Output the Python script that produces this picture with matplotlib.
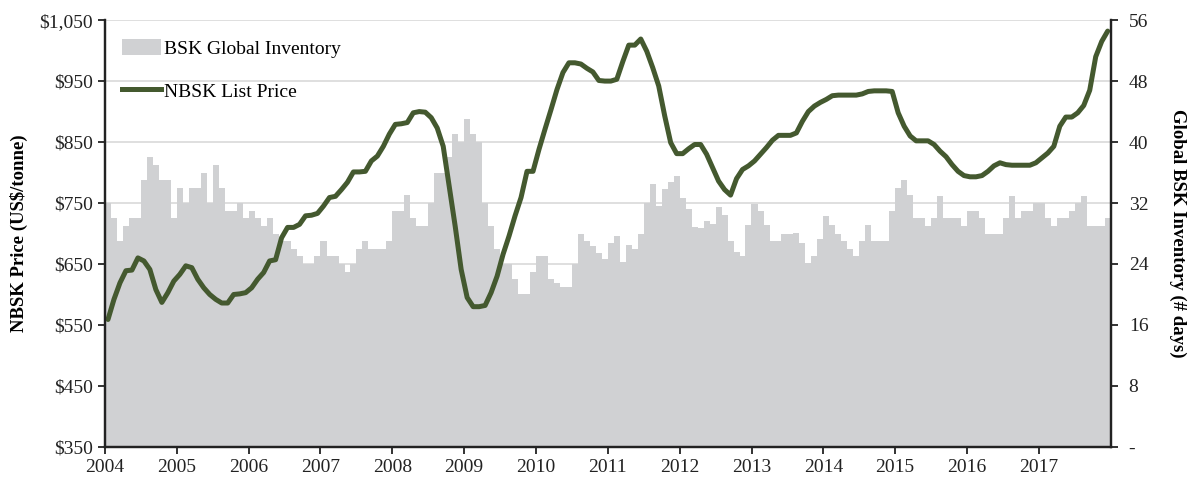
import numpy as np
import matplotlib
matplotlib.use("Agg")
import matplotlib.pyplot as plt
from matplotlib.patches import Patch
from matplotlib.lines import Line2D

plt.rcParams['font.family'] = ['Liberation Serif', 'DejaVu Serif']

years = list(range(2004, 2018))

# BSK global inventory, days of supply, monthly Jan 2004 - Dec 2017
inventory = [
    32, 30, 27, 29, 30, 30, 35, 38, 37, 35, 35, 30,
    34, 32, 34, 34, 36, 32, 37, 34, 31, 31, 32, 30,
    31, 30, 29, 30, 28, 27, 27, 26, 25, 24, 24, 25,
    27, 25, 25, 24, 23, 24, 26, 27, 26, 26, 26, 27,
    31, 31, 33, 30, 29, 29, 32, 36, 36, 38, 41, 40,
    43, 41, 40, 32, 29, 26, 24, 24, 22, 20, 20, 23,
    25, 25, 22, 21.5, 21, 21, 24, 28, 27, 26.4, 25.5, 24.7,
    26.8, 27.7, 24.3, 26.5, 26, 28, 32, 34.5, 31.6, 33.8, 34.7, 35.6,
    32.7, 31.2, 28.8, 28.7, 29.6, 29.3, 31.5, 30.4, 27, 25.6, 25, 29.1,
    31.9, 31, 29.1, 27, 27, 28, 28, 28.1, 26.8, 24.1, 25, 27.3,
    30.3, 29.1, 28, 27, 26, 25, 27, 29.1, 27, 27, 27, 31,
    34, 35, 33, 30.1, 30.1, 29, 30.1, 32.9, 30.1, 30.1, 30.1, 29,
    31, 31, 30.1, 28, 28, 28, 30.1, 32.9, 30.1, 31, 31, 32,
    32, 30.1, 29, 30.1, 30.1, 31, 32, 32.9, 29, 29, 29, 30.1,
]

# NBSK list price, US$/tonne, monthly Jan 2004 - Dec 2017
price = [
    559, 592, 619, 639, 640, 660, 655, 641, 608, 587, 603, 622,
    633, 647, 644, 625, 611, 600, 592, 586, 586, 600, 601, 603,
    611, 625, 636, 655, 657, 693, 710, 710, 715, 729, 730, 733,
    745, 759, 761, 772, 784, 801, 801, 802, 819, 827, 843, 863,
    879, 880, 882, 898, 900, 899, 890, 873, 843, 778, 712, 641,
    595, 580, 580, 582, 603, 630, 666, 696, 729, 759, 802, 802,
    838, 871, 903, 936, 964, 980, 980, 978, 971, 965, 951, 950,
    950, 953, 982, 1009, 1009, 1019, 999, 972, 942, 893, 849, 831,
    831, 839, 846, 846, 830, 808, 786, 772, 763, 790, 805, 811,
    819, 830, 841, 853, 861, 861, 861, 865, 884, 900, 909, 915,
    920, 926, 927, 927, 927, 927, 929, 933, 934, 934, 934, 933,
    898, 876, 860, 852, 852, 852, 846, 835, 826, 813, 802, 795,
    793, 793, 795, 802, 811, 816, 813, 812, 812, 812, 812, 816,
    824, 832, 843, 876, 891, 891, 898, 910, 935, 990, 1015, 1032,
]

price_ticks = list(range(350, 1051, 100))
day_ticks = list(range(0, 57, 8))

bar_color = '#d0d1d3'
line_color = '#44592f'

x = 2004 + (np.arange(len(price)) + 0.5) / 12

fig = plt.figure(figsize=(11.93, 4.79), dpi=100)
ax = fig.add_axes([0.088, 0.067, 0.843, 0.891])
ax2 = ax.twinx()
ax.set_zorder(ax2.get_zorder() + 1)
ax.patch.set_visible(False)

ax2.bar(x, inventory, width=1 / 12 + 0.002, color=bar_color, linewidth=0, zorder=2)
ax2.set_ylim(0, 56)
ax2.set_yticks(day_ticks)
ax2.set_yticklabels(['-'] + [str(t) for t in day_ticks[1:]])
for t in day_ticks[1:]:
    ax2.axhline(t, color='#d9d9d9', linewidth=1.2, zorder=1)

ax.plot(x, price, color=line_color, linewidth=3.6, solid_capstyle='round')
ax.set_ylim(350, 1050)
ax.set_yticks(price_ticks)
ax.set_yticklabels(['${:,}'.format(t) for t in price_ticks])
ax.set_xlim(2004, 2018)
ax.set_xticks(years)
ax.set_xticklabels([str(y) for y in years])

for a in (ax, ax2):
    a.spines['top'].set_visible(False)
    for s in ('left', 'right', 'bottom'):
        a.spines[s].set_linewidth(1.6)
        a.spines[s].set_color('#222222')
    a.tick_params(labelsize=14, width=1.3, length=5, color='#222222', labelcolor='#222222')
ax2.tick_params(axis='y', pad=8)

ax.set_ylabel('NBSK Price (US$/tonne)', fontsize=13.5, fontweight='bold', labelpad=8)
ax2.set_ylabel('Global BSK Inventory (# days)', fontsize=13.5, fontweight='bold',
               rotation=270, labelpad=27)

handles = [Patch(facecolor=bar_color, edgecolor='none'),
           Line2D([0], [0], color=line_color, linewidth=3.6)]
ax.legend(handles, ['BSK Global Inventory', 'NBSK List Price'], loc='upper left',
          bbox_to_anchor=(0.0, 0.997), frameon=False, fontsize=14,
          labelspacing=1.25, handlelength=2.0, handletextpad=0.12, handleheight=0.9)

fig.savefig('out.png', dpi=100)
